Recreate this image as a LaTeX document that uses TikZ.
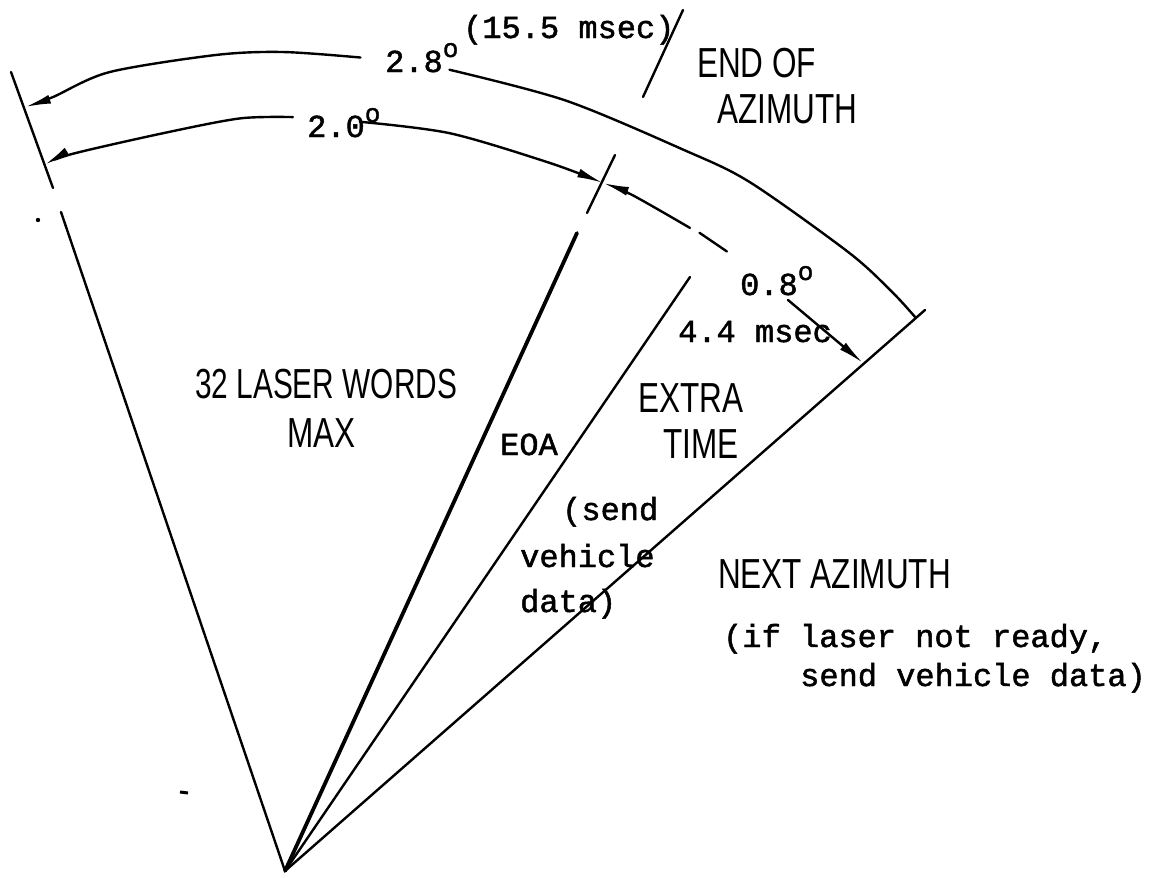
\documentclass[tikz,border=0pt]{standalone}
\usepackage{fontspec}
\usetikzlibrary{arrows.meta,calc}
\newfontfamily\twfont[FakeBold=1.5]{Liberation Mono}
\newfontfamily\lrfont[FakeStretch=0.75]{Liberation Sans}
\newfontfamily\lrfontn[FakeStretch=0.71]{Liberation Sans}
\newcommand\degsign{\raisebox{15pt}{\fontsize{26}{26}\selectfont o}}
\begin{document}
\begin{tikzpicture}[x=1pt,y=-1pt,
  ln/.style={line width=2.4pt,line cap=round},
  thk/.style={line width=3.8pt,line cap=round},
  arr/.style={-{Latex[length=26pt,width=9pt]}},
  tw/.style={font={\twfont\fontsize{32}{36}\selectfont},anchor=base west,inner sep=0pt},
  lr/.style={font={\lrfont\fontsize{42}{46}\selectfont},anchor=base west,inner sep=0pt},
  lrn/.style={font={\lrfontn\fontsize{42}{46}\selectfont},anchor=base west,inner sep=0pt}]
\fill[white] (0,0) rectangle (1154,878);
\useasboundingbox (0,0) rectangle (1154,878);
% key points
\coordinate (A) at (285,871);
\coordinate (Ltop) at (61,212);
\coordinate (Lt1) at (11,72);
\coordinate (Lt2) at (53,188);
\coordinate (Etop) at (577,233);
\coordinate (Et1) at (615,155);
\coordinate (Et2) at (587,213);
\coordinate (Xtop) at (690,277);
\coordinate (Rtop) at (925,310);
\coordinate (S1) at (683,10);
\coordinate (S2) at (643,97);
\coordinate (P1) at (788,300);
\coordinate (P2) at (863,363);
% radial lines
\draw[ln] (A) -- (Ltop);
\draw[ln] (Lt1) -- (Lt2);
\draw[thk] (A) -- (Etop);
\draw[ln] (Et1) -- (Et2);
\draw[ln] (A) -- (Xtop);
\draw[ln] (A) -- (Rtop);
\draw[ln] (S1) -- (S2);
% arcs
\begin{scope}[shift={(A)}]
\draw[ln,arr] plot[smooth] coordinates {(84.7:817pt) (90.1:819pt) (94.8:819pt) (102.4:818pt) (106.7:808pt) (108.8:807pt)};
\draw[ln] plot[smooth] coordinates {(78.4:818pt) (70:820pt) (61.1:824pt) (56.0:831pt) (47.6:837pt) (43.6:839pt) (41.3:839pt)};
\draw[ln,arr] plot[smooth] coordinates {(89.4:754pt) (93.4:754pt) (99.1:748pt) (106.5:748pt) (108.8:746pt)};
\draw[ln,arr] plot[smooth] coordinates {(84.3:753pt) (77.4:756pt) (69.5:756pt) (65.2:758pt)};
\draw[ln,arr] plot[smooth] coordinates {(57.8:760pt) (62.8:760pt) (65.2:758pt)};
\draw[ln] plot[smooth] coordinates {(54.5:761pt) (57.0:761pt)};
\end{scope}
\draw[ln,arr] (P1) -- (P2);
% specks
\fill (38,220) circle (2.2pt);
\draw[line width=3pt] (180,792) -- (188,793);
% typewriter labels
\node[tw] (t155) at (463,38) {(15.5 msec)};
\node[tw] (t28) at (385,72) {2.8\degsign};
\node[tw] (t20) at (307,137) {2.0\degsign};
\node[tw] (t08) at (740,295) {0.8\degsign};
\node[tw] (t44) at (678,342) {4.4 msec};
\node[tw] (teoa) at (500,455) {EOA};
\node[tw] (ts1) at (562,520) {(send};
\node[tw] (ts2) at (520,567) {vehicle};
\node[tw] (ts3) at (520,612) {data)};
\node[tw] (tn1) at (723,647) {(if laser not ready,};
\node[tw] (tn2) at (800,686) {send vehicle data)};
% lettering labels
\node[lr] (eo) at (697,77) {END OF};
\node[lr] (az) at (717,123) {AZIMUTH};
\node[lr] (ex) at (638,412) {EXTRA};
\node[lr] (ti) at (663,458) {TIME};
\node[lrn] (lw) at (195,398) {32 LASER WORDS};
\node[lr] (mx) at (287,447) {MAX};
\node[lr] (na) at (718,588) {NEXT AZIMUTH};
\end{tikzpicture}
\end{document}
